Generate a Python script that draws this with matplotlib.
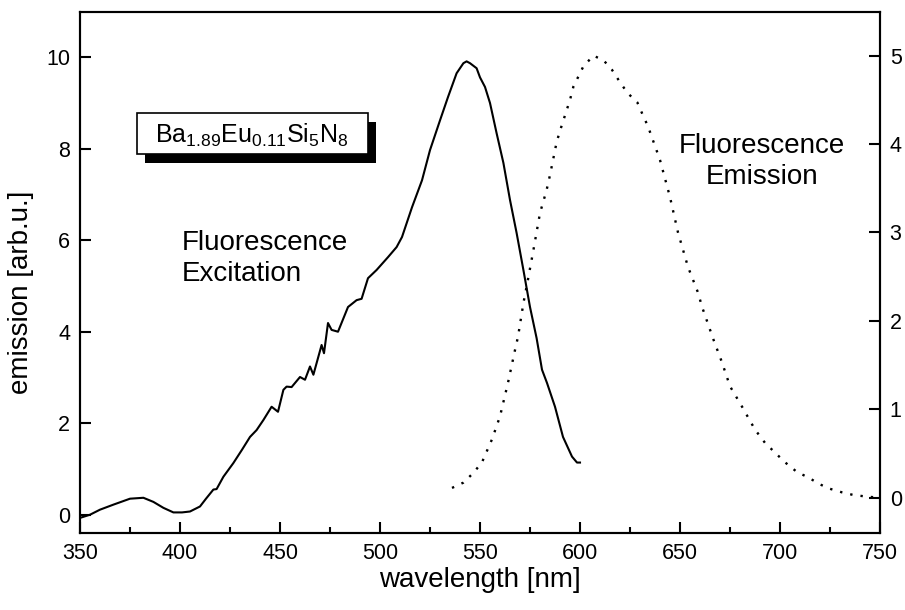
import matplotlib
matplotlib.use('Agg')
import matplotlib.pyplot as plt
from matplotlib.patches import Rectangle

plt.rcParams['font.family'] = ['Liberation Sans', 'DejaVu Sans']
plt.rcParams['mathtext.fontset'] = 'custom'
plt.rcParams['mathtext.rm'] = 'Liberation Sans'

# excitation spectrum (left axis)
exc_nm = [350, 355, 360, 366.7, 375, 381.7, 386.7, 391.7, 396.7, 401, 405, 410,
          413, 416.7, 418.3, 421.7, 426.7, 431, 435, 438.3, 441.7, 445.8, 449,
          451.7, 453.3, 455.8, 460, 462.5, 465, 466.7, 470.8, 472, 474, 475.8,
          479, 484, 488.3, 490.8, 494, 498.3, 504, 508.3, 511, 516, 521, 525,
          530, 534, 538.3, 541.7, 543.3, 545, 548.3, 550, 552.5, 555, 558.3,
          561.7, 565, 568.3, 571.7, 575, 578.3, 581, 583.5, 587.5, 591.5, 596,
          598.5, 600]
exc_val = [-0.07, 0.0, 0.11, 0.22, 0.35, 0.37, 0.28, 0.15, 0.05, 0.05, 0.07, 0.18,
           0.35, 0.55, 0.56, 0.83, 1.13, 1.42, 1.70, 1.85, 2.07, 2.36, 2.25,
           2.73, 2.80, 2.79, 3.01, 2.95, 3.24, 3.06, 3.71, 3.53, 4.19, 4.04,
           4.00, 4.54, 4.69, 4.72, 5.17, 5.35, 5.63, 5.85, 6.07, 6.72, 7.31, 7.97,
           8.62, 9.13, 9.65, 9.87, 9.91, 9.87, 9.76, 9.56, 9.35, 9.0, 8.34,
           7.69, 6.88, 6.16, 5.35, 4.54, 3.86, 3.17, 2.88, 2.36, 1.70, 1.27,
           1.14, 1.14]

# emission spectrum (right axis)
em_nm = [536, 541.7, 546.7, 551, 556, 560, 564, 567.5, 569, 571.7, 574, 576.7,
         580, 583.3, 585, 588.3, 590, 595, 596.7, 601.7, 606.7, 611.7, 616, 620,
         623.7, 628.7, 631, 634, 640, 645, 649, 654, 659, 661, 666.7, 671, 675,
         681, 687.5, 692.5, 697.5, 702.5, 708.5, 714, 720, 725, 731, 736.7, 744, 750]
em_val = [0.11, 0.17, 0.28, 0.40, 0.66, 0.92, 1.30, 1.67, 1.82, 2.2, 2.47, 2.8,
          3.22, 3.48, 3.65, 4.02, 4.15, 4.5, 4.65, 4.88, 5.0, 4.95, 4.84, 4.70,
          4.58, 4.47, 4.35, 4.2, 3.82, 3.4, 3.0, 2.61, 2.32, 2.16, 1.79, 1.53, 1.26,
          1.03, 0.77, 0.62, 0.51, 0.40, 0.29, 0.23, 0.15, 0.10, 0.06, 0.03, 0.01, 0.0]

x_ticks = [350, 400, 450, 500, 550, 600, 650, 700, 750]
left_ticks = [0, 2, 4, 6, 8, 10]
right_ticks = [0, 1, 2, 3, 4, 5]

fig = plt.figure(figsize=(9.05, 6.10), dpi=100)
ax = fig.add_axes([80/905, 1-533/610, 800/905, 521.5/610])
ax2 = ax.twinx()

ax.plot(exc_nm, exc_val, color='black', lw=1.5)
ax2.plot(em_nm, em_val, color='black', lw=1.7, linestyle=(0, (1, 3.4)))

ax.set_xlim(350, 750)
ax.set_ylim(-0.4, 11)
ax2.set_ylim(-0.4, 5.5)
ax.set_xticks(x_ticks)
ax.set_xticks(range(375, 750, 50), minor=True)
ax.set_yticks(left_ticks)
ax2.set_yticks(right_ticks)

for a in (ax, ax2):
    for s in a.spines.values():
        s.set_linewidth(1.5)
ax.tick_params(axis='both', which='major', direction='in', length=8, width=1.5,
               labelsize=15.5, pad=7)
ax.tick_params(axis='x', which='minor', direction='in', length=4.5, width=1.5)
ax2.tick_params(axis='y', which='major', direction='in', length=8, width=1.5,
                labelsize=15.5, pad=7)

fig.text(21/905, 1-292/610, 'emission [arb.u.]', rotation=90,
         ha='center', va='center', fontsize=20)
fig.text(480/905, 1-580/610, 'wavelength [nm]', ha='center', va='center',
         fontsize=20)

ax.text(401, 5.61, 'Fluorescence\nExcitation', ha='left', va='center',
        fontsize=20, linespacing=1.25)
ax.text(691, 7.73, 'Fluorescence\nEmission', ha='center', va='center',
        fontsize=20, linespacing=1.25, multialignment='center')

# composition label: white box with black drop shadow
ax.add_patch(Rectangle((382.5, 7.68), 115.5, 0.9, fc='black', ec='none', zorder=4))
ax.add_patch(Rectangle((378.5, 7.88), 115.5, 0.9, fc='white', ec='black',
                       lw=1.2, zorder=5))
ax.text(436, 8.13, r'$\mathregular{Ba_{1.89}Eu_{0.11}Si_5N_8}$',
        ha='center', va='baseline', fontsize=18, zorder=6)

fig.savefig('out.png', dpi=100)
